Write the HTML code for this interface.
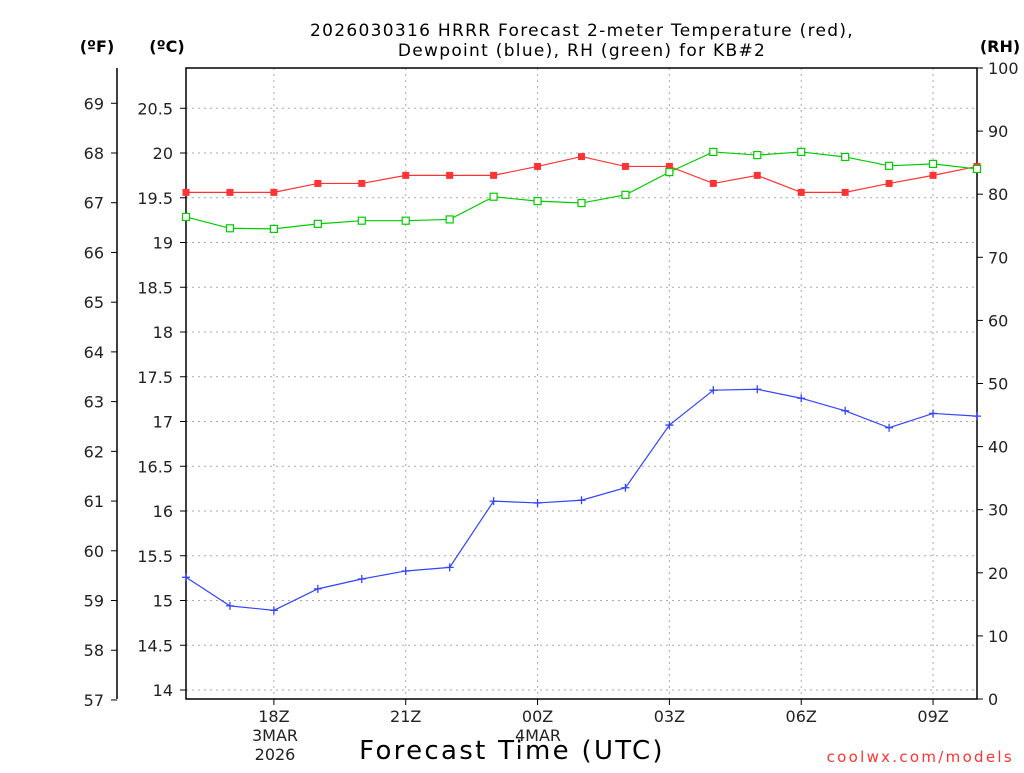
<!DOCTYPE html>
<html><head><meta charset="utf-8"><style>
body{margin:0;background:#fff;font-family:"Liberation Sans","DejaVu Sans",sans-serif}
svg text{font-family:"DejaVu Sans","Liberation Sans",sans-serif}
</style></head><body>
<svg id="chart" width="1024" height="768" xmlns="http://www.w3.org/2000/svg">
<rect width="1024" height="768" fill="#fff"/>
<text x="582" y="36" font-size="17" letter-spacing="1.3" text-anchor="middle">2026030316 HRRR Forecast 2-meter Temperature (red),</text>
<text x="582" y="56" font-size="17" letter-spacing="1.3" text-anchor="middle">Dewpoint (blue), RH (green) for KB#2</text>
<text x="97" y="52" font-size="16" font-weight="bold" text-anchor="middle">(ºF)</text>
<text x="167" y="52" font-size="16" font-weight="bold" text-anchor="middle">(ºC)</text>
<text x="1000" y="52" font-size="16" font-weight="bold" text-anchor="middle">(RH)</text>
<text x="512" y="759" font-size="26" letter-spacing="2.3" text-anchor="middle">Forecast Time (UTC)</text>
<text x="1014" y="762" font-size="15" letter-spacing="2.3" fill="#ff3333" text-anchor="end">coolwx.com/models</text>
<g id="grid"></g><g id="axes"></g><g id="series"></g>
</svg>
<script>
const hours=[16,17,18,19,20,21,22,23,24,25,26,27,28,29,30,31,32,33,34];
const tempC=[19.56,19.56,19.56,19.66,19.66,19.75,19.75,19.75,19.85,19.96,19.85,19.85,19.66,19.75,19.56,19.56,19.66,19.75,19.85];
const dewC=[15.26,14.94,14.89,15.13,15.24,15.33,15.37,16.11,16.09,16.12,16.26,16.96,17.35,17.36,17.26,17.12,16.93,17.09,17.06];
const rh=[76.4,74.6,74.5,75.3,75.8,75.8,76.0,79.6,78.9,78.6,79.9,83.5,86.7,86.2,86.7,85.9,84.5,84.8,84.0];
const cTicks=[14,14.5,15,15.5,16,16.5,17,17.5,18,18.5,19,19.5,20,20.5];
const fTicks=[57,58,59,60,61,62,63,64,65,66,67,68,69];
const rhTicks=[0,10,20,30,40,50,60,70,80,90,100];
const xTickHours=[18,21,24,27,30,33];
const xTickLabels=["18Z","21Z","00Z","03Z","06Z","09Z"];
const L=186,R=977,T=68,B=699;
const NS="http://www.w3.org/2000/svg";
const X=h=>L+(h-16)*(R-L)/18;
const YC=c=>690-(c-14)*89.5;
const YF=f=>YC((f-32)*5/9);
const YR=r=>B-r*(B-T)/100;
function mk(tag,at,parent){const e=document.createElementNS(NS,tag);for(const k in at)e.setAttribute(k,at[k]);document.getElementById(parent).appendChild(e);return e;}
cTicks.forEach(c=>{const l=mk('line',{x1:L,x2:R,y1:YC(c),y2:YC(c),stroke:'#aaa','stroke-dasharray':'2,4'},'grid');

});
xTickHours.forEach((h,i)=>{const l=mk('line',{x1:X(h),x2:X(h),y1:T,y2:B,stroke:'#aaa','stroke-dasharray':'2,4'},'grid');


const t=mk('text',{x:X(h),y:722,'font-size':16,'text-anchor':'middle',fill:'#222'},'axes');t.textContent=xTickLabels[i];


mk('line',{x1:X(h),x2:X(h),y1:B,y2:B+6,stroke:'#000'},'axes');});
const sub=[[275,"3MAR",741],[275,"2026",760],[538,"4MAR",741]];
sub.forEach(s=>{const t=mk('text',{x:s[0],y:s[2],'font-size':16,'text-anchor':'middle',fill:'#222'},'axes');t.textContent=s[1];

});
const fr=mk('rect',{x:L,y:T,width:R-L,height:B-T,fill:'none',stroke:'#000','stroke-width':1.5},'axes');


mk('line',{x1:117,x2:117,y1:T,y2:B,stroke:'#000','stroke-width':1.5},'axes');
cTicks.forEach(c=>{mk('line',{x1:L-6,x2:L,y1:YC(c),y2:YC(c),stroke:'#000'},'axes');
const t=mk('text',{x:173,y:YC(c)+6,'font-size':16,'text-anchor':'end',fill:'#222'},'axes');t.textContent=c;

});
fTicks.forEach(f=>{mk('line',{x1:111,x2:117,y1:YF(f),y2:YF(f),stroke:'#000'},'axes');
const t=mk('text',{x:104,y:YF(f)+6,'font-size':16,'text-anchor':'end',fill:'#222'},'axes');t.textContent=f;

});
rhTicks.forEach(r=>{mk('line',{x1:R,x2:R+6,y1:YR(r),y2:YR(r),stroke:'#000'},'axes');
const t=mk('text',{x:988,y:YR(r)+6,'font-size':16,fill:'#222'},'axes');t.textContent=r;

});
function line(vals,yf,color,name){const p=mk('polyline',{points:vals.map((v,i)=>X(hours[i])+','+yf(v)).join(' '),fill:'none',stroke:color,'stroke-width':1.2},'series');

}
line(tempC,YC,'#ff3333','temperature-line');
line(rh,YR,'#00cc00','rh-line');
line(dewC,YC,'#3344ff','dewpoint-line');
tempC.forEach((v,i)=>{const m=mk('rect',{x:X(hours[i])-3.5,y:YC(v)-3.5,width:7,height:7,fill:'#ff3333'},'series');

});
rh.forEach((v,i)=>{const m=mk('rect',{x:X(hours[i])-3.5,y:YR(v)-3.5,width:7,height:7,fill:'#fff',stroke:'#00cc00','stroke-width':1.2},'series');

});
dewC.forEach((v,i)=>{const x=X(hours[i]),y=YC(v);const m=mk('path',{d:`M${x-4},${y}H${x+4}M${x},${y-4}V${y+4}`,stroke:'#3344ff','stroke-width':1.3},'series');

});
</script>
</body></html>
